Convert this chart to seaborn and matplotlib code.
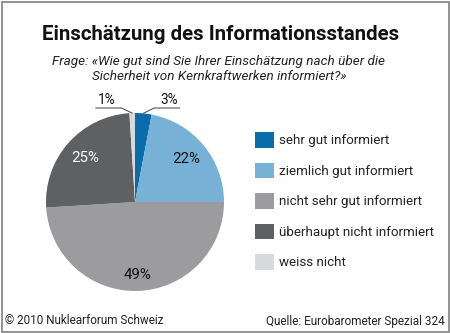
import numpy as np
import matplotlib
matplotlib.use("Agg")
import matplotlib.pyplot as plt
import matplotlib.patches as mpatches
import seaborn as sns

# ---- data ----
categories = ["sehr gut informiert", "ziemlich gut informiert",
              "nicht sehr gut informiert", "überhaupt nicht informiert",
              "weiss nicht"]
values = [3, 22, 49, 25, 1]
pct_labels = ["3%", "22%", "49%", "25%", "1%"]
colors = ["#0a6ca8", "#78b1d6", "#9c9c9e", "#5f6062", "#d8d9db"]

title = "Einschätzung des Informationsstandes"
subtitle = "Frage: «Wie gut sind Sie Ihrer Einschätzung nach über die\nSicherheit von Kernkraftwerken informiert?»"
footer_left = "© 2010 Nuklearforum Schweiz"
footer_right = "Quelle: Eurobarometer Spezial 324"

sns.set_theme(style="white")
plt.rcParams['font.family'] = ['Roboto', 'DejaVu Sans']

W, H = 450, 333
fig = plt.figure(figsize=(W / 100, H / 100), dpi=100)
fig.patch.set_facecolor("white")

# frame
fig.add_artist(mpatches.Rectangle((1.5 / W, 1.5 / H), (W - 3) / W, (H - 3) / H,
                                  transform=fig.transFigure, fill=False,
                                  edgecolor="#8a8a8a", linewidth=1.3))

fig.text(221 / W, 1 - 34 / H, title, ha="center", va="center",
         fontsize=14.7, fontweight="bold", color="#111111")
fig.text(219 / W, 1 - 69 / H, subtitle, ha="center", va="center",
         fontsize=9.7, style="italic", color="#222222", linespacing=1.25)

# pie axes
cx, cy, r = 135, 202, 89
ax = fig.add_axes([(cx - r) / W, (H - cy - r) / H, 2 * r / W, 2 * r / H])
wedges, _ = ax.pie(values, colors=colors, startangle=90, counterclock=False,
                   wedgeprops=dict(linewidth=0))
ax.set_xlim(-1, 1)
ax.set_ylim(-1, 1)
ax.set_axis_off()

text_colors = ["#111111", "#111111", "#111111", "white", "#111111"]
for i, (w, lab) in enumerate(zip(wedges, pct_labels)):
    mid = np.deg2rad((w.theta1 + w.theta2) / 2)
    if values[i] >= 5:
        d = 0.82 if values[i] > 40 else 0.75
        ax.text(d * np.cos(mid), d * np.sin(mid), lab, ha="center", va="center",
                fontsize=10.8, color=text_colors[i])
    else:
        sx, sy = np.cos(mid), np.sin(mid)
        side = 1 if sx >= 0 else -1
        ex = sx + side * 0.12
        ey = 1.056
        hx = ex + side * 0.29
        ax.plot([sx, ex, hx], [sy, ey, ey], color="#555555", lw=0.8,
                clip_on=False)
        ax.text((ex + hx) / 2 + side * 0.02, ey + 0.015, lab, ha="center",
                va="bottom", fontsize=9.8, color="#111111")

handles = [mpatches.Patch(facecolor=c, edgecolor="none") for c in colors]
fig.legend(handles, categories, loc="upper left",
           bbox_to_anchor=(255 / W, 1 - 132 / H), borderaxespad=0,
           frameon=False, fontsize=9.6, handlelength=1.42, handleheight=1.42,
           handletextpad=0.4, labelspacing=1.12, borderpad=0,
           labelcolor="#222222")

fig.text(5 / W, 1 - 321 / H, footer_left, ha="left", va="center",
         fontsize=8.5, color="#222222")
fig.text(445 / W, 1 - 321 / H, footer_right, ha="right", va="center",
         fontsize=8.5, color="#222222")

fig.savefig("out.png", dpi=100)
